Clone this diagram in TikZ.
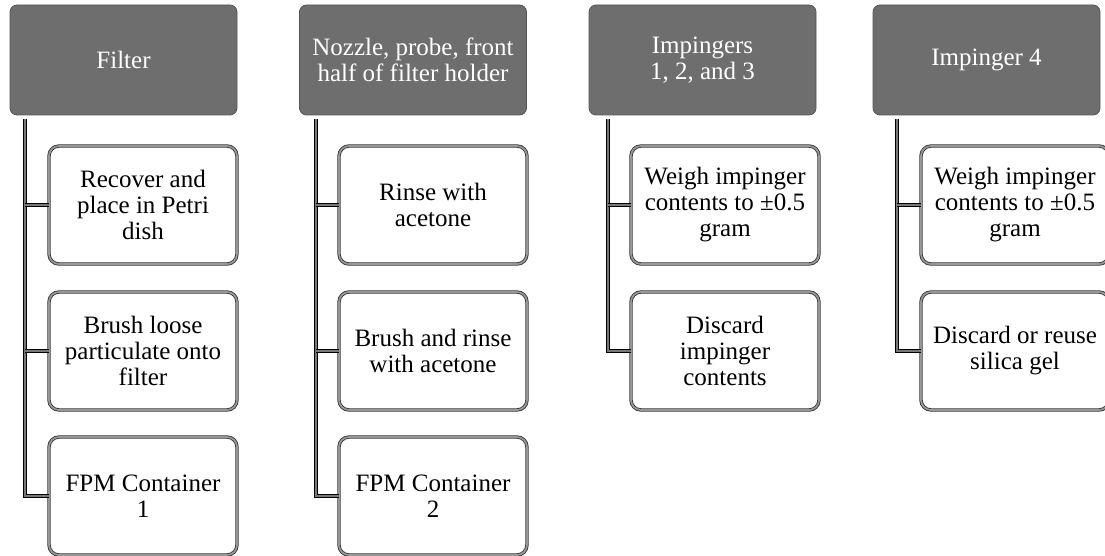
\documentclass[tikz,border=0pt]{standalone}
\usepackage{fontspec}
\setmainfont{Liberation Serif}
\usepackage{xcolor}

\tikzset{
  head/.style={fill={rgb,255:red,110;green,110;blue,110}, draw={rgb,255:red,85;green,85;blue,85}, line width=0.8pt,
    rounded corners=7pt, minimum width=227pt, minimum height=110pt, text=white, align=center,
    font=\fontsize{25}{26}\selectfont, inner sep=0pt},
  item/.style={fill=white, draw=black!80, double={rgb,255:red,150;green,150;blue,150}, double distance=1.8pt,
    line width=0.8pt, rounded corners=10pt, minimum width=188pt, minimum height=118pt, align=center,
    font=\fontsize{25}{26}\selectfont, inner sep=0pt},
  link/.style={draw=black, double={rgb,255:red,120;green,120;blue,120}, double distance=1.4pt, line width=1pt}
}

\begin{document}
\begin{tikzpicture}[x=1pt,y=1pt,yscale=-1,xscale=1]
    \useasboundingbox (0,0) rectangle (1105,556);

    % Column: Filter
    \node [head] (filt) at (123.5,60) {Filter};
    \node [item] (filt1) at (143,205) {Recover and\\place in Petri\\dish};
    \node [item] (filt2) at (143,351) {Brush loose\\particulate onto\\filter};
    \node [item] (filt3) at (143,496) {FPM Container\\1};
    \coordinate (filt-top) at (25,119);

    % Column: Nozzle, probe, front half
    \node [head] (noz) at (413,60) {Nozzle, probe, front\\half of filter holder};
    \node [item] (noz1) at (433,205) {Rinse with\\acetone};
    \node [item] (noz2) at (433,351) {Brush and rinse\\with acetone};
    \node [item] (noz3) at (433,496) {FPM Container\\2};
    \coordinate (noz-top) at (316,119);

    % Column: Impingers 1, 2, and 3
    \node [head] (imp) at (702.5,60) {Impingers\\1, 2, and 3};
    \node [item] (imp1) at (725,205) {Weigh impinger\\contents to ±0.5\\gram};
    \node [item] (imp2) at (725,351) {Discard\\impinger\\contents};
    \coordinate (imp-top) at (608,119);

    % Column: Impinger 4
    \node [head] (impf) at (986.5,60) {Impinger 4};
    \node [item] (impf1) at (1015,205) {Weigh impinger\\contents to ±0.5\\gram};
    \node [item] (impf2) at (1015,351) {Discard or reuse\\silica gel};
    \coordinate (impf-top) at (897,119);

    % Connectors
    \draw [link] (filt-top) |- (filt3.west);
    \draw [link] (filt1.west -| filt-top) -- (filt1.west);
    \draw [link] (filt2.west -| filt-top) -- (filt2.west);

    \draw [link] (noz-top) |- (noz3.west);
    \draw [link] (noz1.west -| noz-top) -- (noz1.west);
    \draw [link] (noz2.west -| noz-top) -- (noz2.west);

    \draw [link] (imp-top) |- (imp2.west);
    \draw [link] (imp1.west -| imp-top) -- (imp1.west);

    \draw [link] (impf-top) |- (impf2.west);
    \draw [link] (impf1.west -| impf-top) -- (impf1.west);
\end{tikzpicture}
\end{document}
